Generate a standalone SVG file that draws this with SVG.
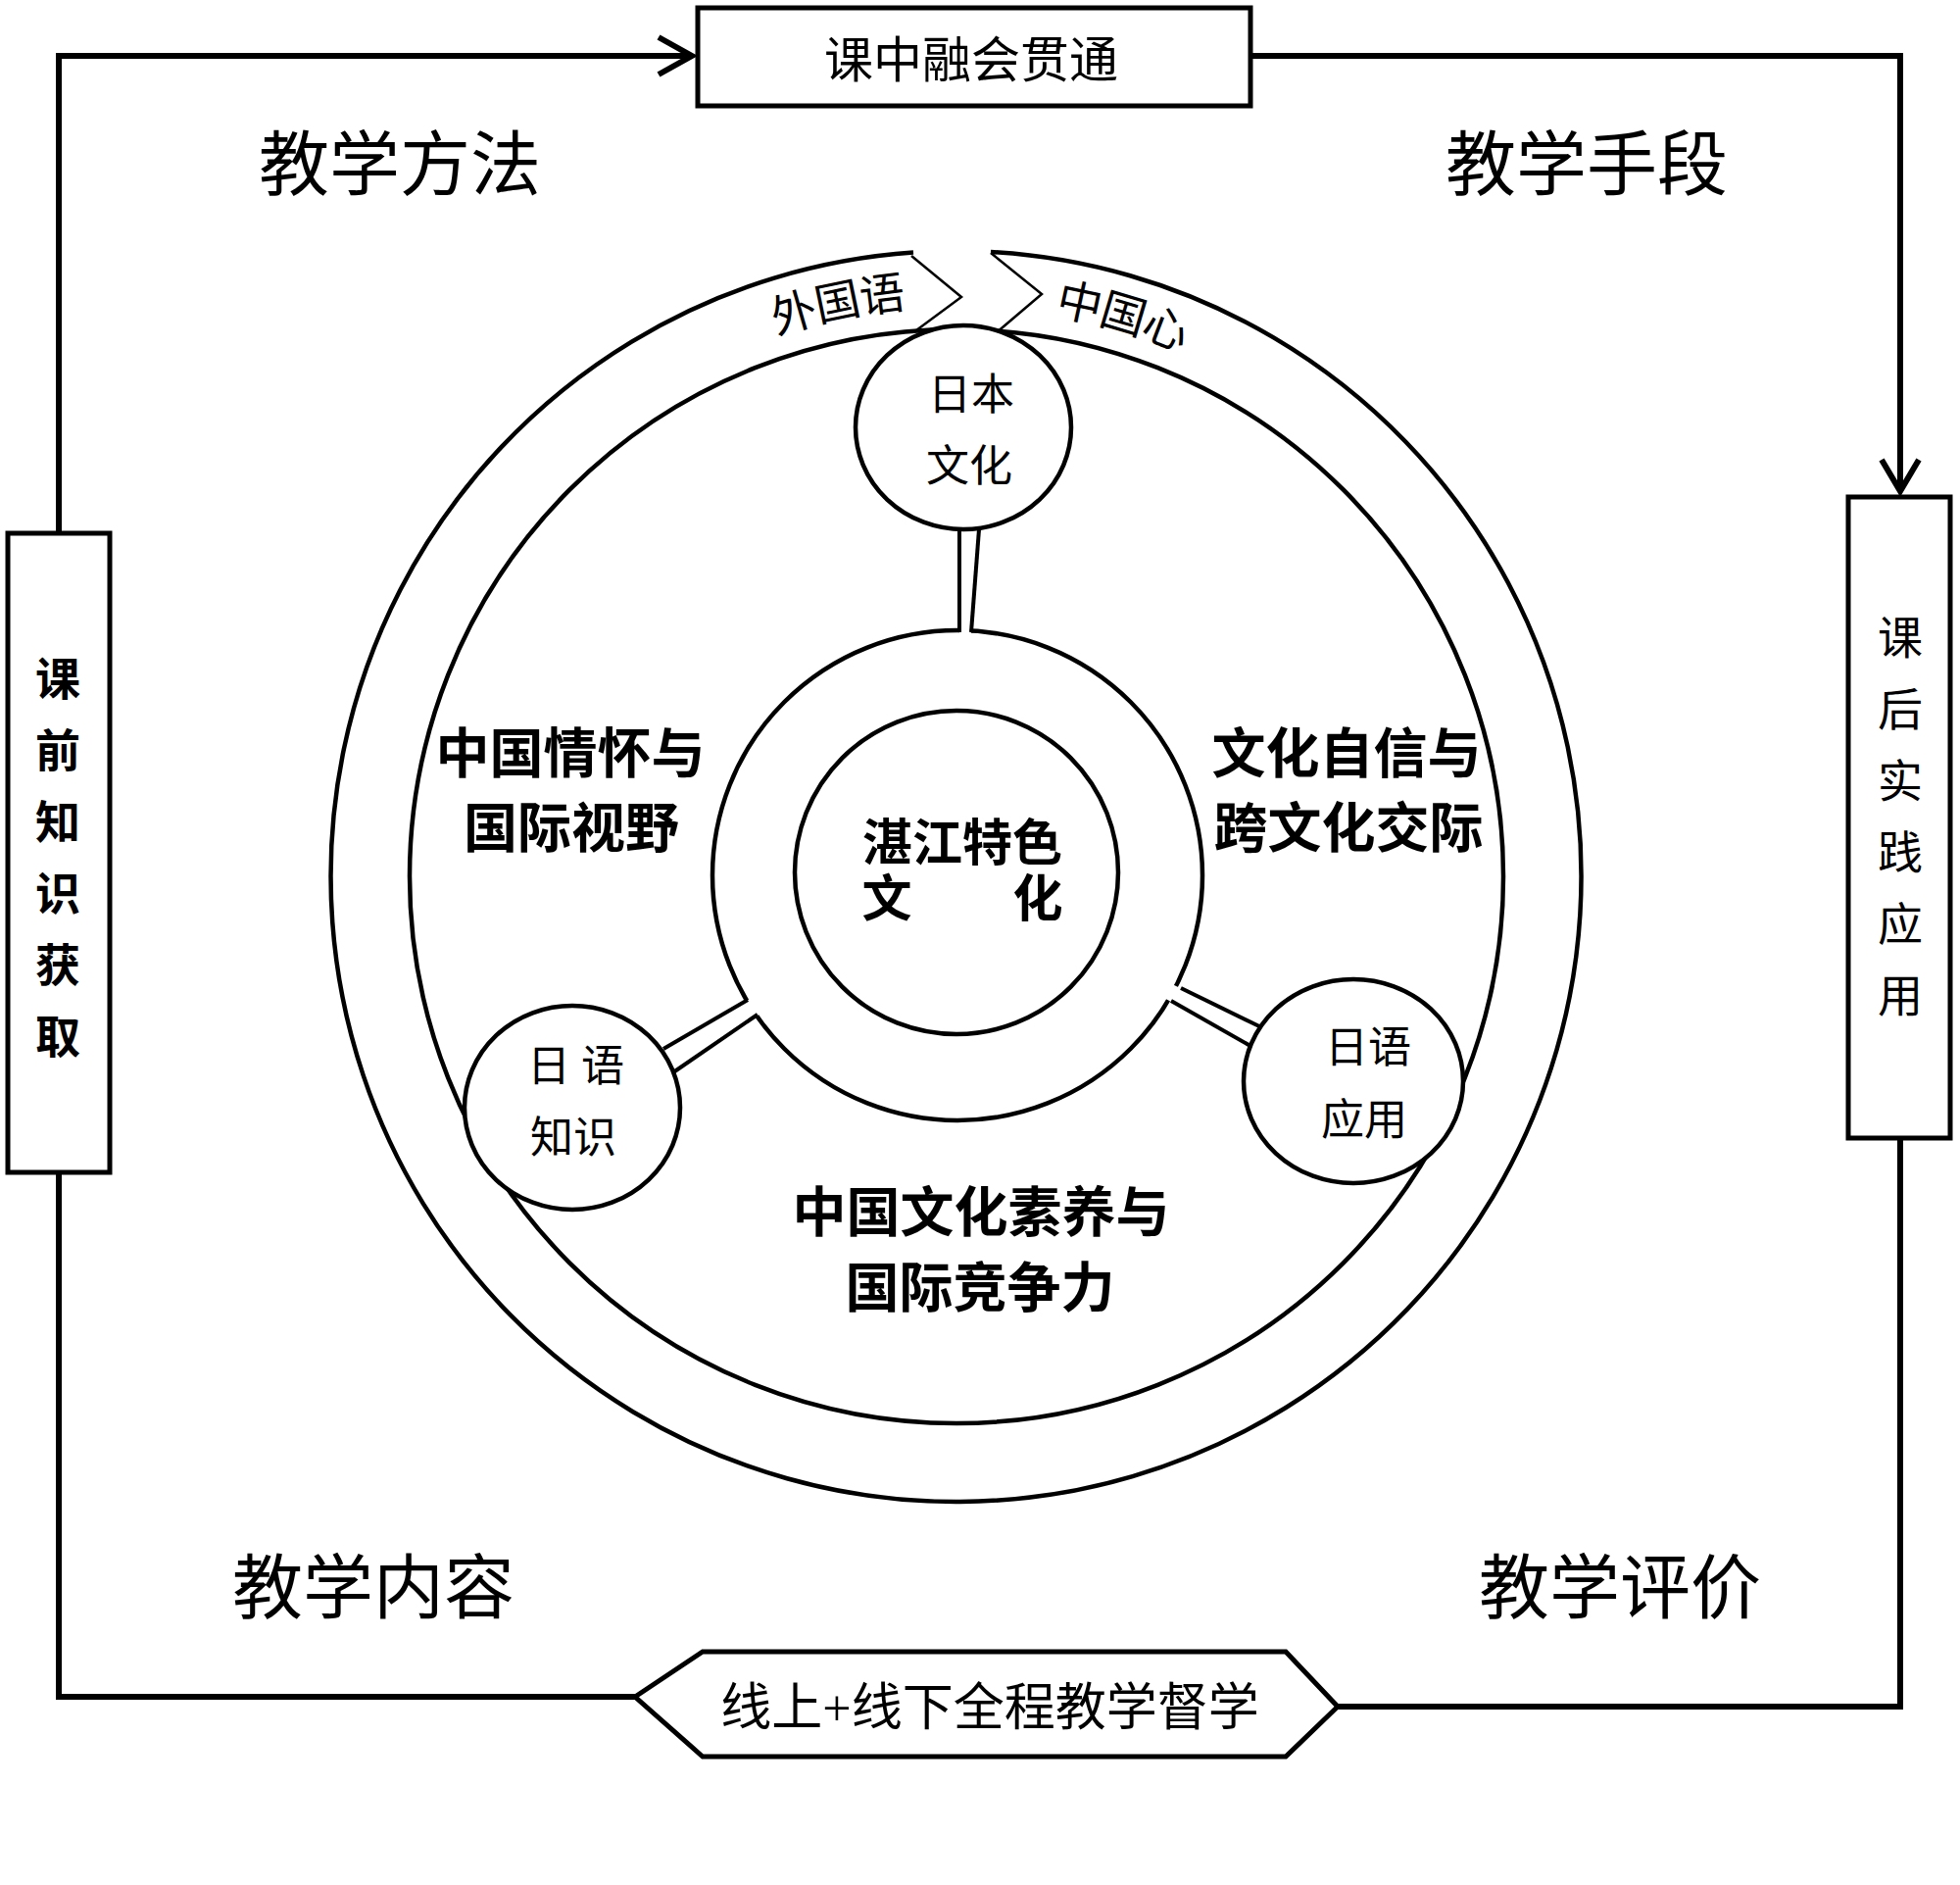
<svg xmlns="http://www.w3.org/2000/svg" width="2000" height="1923" viewBox="0 0 2000 1923">
<defs>
<style>
.t{font-family:"Liberation Serif","Noto Sans CJK SC",serif;fill:#000;text-anchor:middle;dominant-baseline:central}
.b{font-family:"Noto Sans CJK SC",sans-serif;font-weight:700;fill:#000;text-anchor:middle;dominant-baseline:central}
.box{fill:#fff;stroke:#000;stroke-width:5}
.ring{fill:none;stroke:#000;stroke-width:4.5}
.sc{fill:#fff;stroke:#000;stroke-width:4.5}
.stem{stroke:#000;stroke-width:4;fill:none}
.flow{fill:none;stroke:#000;stroke-width:6;stroke-linejoin:miter}
</style>
<path id="arcp" d="M 378 894 A 598 598 0 0 1 1574 894"/>
</defs>
<rect width="2000" height="1923" fill="#fff"/>

<g id="connectors">
<polyline class="flow" points="648,1731 60,1731 60,1196"/>
<polyline class="flow" points="60,542 60,57 706,57"/>
<polyline class="flow" points="672,38 706,57 672,76"/>
<polyline class="flow" points="1276,57 1939,57 1939,501"/>
<polyline class="flow" points="1920,469 1939,501 1958,469"/>
<polyline class="flow" points="1939,1161 1939,1741 1365,1741"/>
</g>

<g id="node-top">
<rect class="box" x="712" y="8" width="564" height="100"/>
<text class="t" x="991" y="62" font-size="50">课中融会贯通</text>
</g>

<g id="node-left">
<rect class="box" x="8" y="544" width="104" height="652"/>
<g class="b" font-size="46">
<text x="59" y="689">课</text><text x="59" y="762">前</text><text x="59" y="835">知</text>
<text x="59" y="908">识</text><text x="59" y="981">获</text><text x="59" y="1054">取</text>
</g>
</g>

<g id="node-right">
<rect class="box" x="1886" y="507" width="104" height="654"/>
<g class="t" font-size="46">
<text x="1939" y="651">课</text><text x="1939" y="724">后</text><text x="1939" y="797">实</text>
<text x="1939" y="870">践</text><text x="1939" y="943">应</text><text x="1939" y="1016">用</text>
</g>
</g>

<g id="node-bottom">
<polygon class="box" points="648,1731 717,1685 1312,1685 1365,1741 1312,1792 717,1792"/>
<text class="t" x="1010" y="1742" font-size="52">线上+线下全程教学督学</text>
</g>

<g id="labels-corner" class="t" font-size="72">
<text x="408" y="169">教学方法</text>
<text x="1619" y="169">教学手段</text>
<text x="381" y="1621">教学内容</text>
<text x="1653" y="1621">教学评价</text>
</g>

<g id="outer-ring">
<path class="ring" d="M 1011 257 A 638 638 0 1 1 932 257.5"/>
<circle class="ring" cx="976" cy="894" r="558"/>
<polyline fill="none" stroke="#000" stroke-width="2.5" points="930,261 981,303 935,337"/>
<polyline fill="none" stroke="#000" stroke-width="2.5" points="1011,258 1063,300 1016,340"/>
<text class="t" font-size="46"><textPath href="#arcp" startOffset="817" text-anchor="middle">外国语</textPath></text>
<text class="t" font-size="46"><textPath href="#arcp" startOffset="1112" text-anchor="middle">中国心</textPath></text>
</g>

<g id="middle-circle">
<circle class="ring" cx="977" cy="893" r="250"/>
<circle class="ring" cx="976" cy="890" r="165"/>
<text class="b" x="982" y="856" font-size="51">湛江特色</text>
<text class="b" x="905" y="913" font-size="51">文</text>
<text class="b" x="1059" y="913" font-size="51">化</text>
</g>

<g id="stems">
<polygon fill="#fff" points="979,540 999,540 990,656 979,656"/>
<line class="stem" x1="979" y1="540" x2="979" y2="645"/>
<line class="stem" x1="999" y1="540" x2="991" y2="645"/>
<polygon fill="#fff" points="677,1070 772,1015 782,1030 687,1094"/>
<line class="stem" x1="677" y1="1070" x2="763" y2="1020"/>
<line class="stem" x1="687" y1="1094" x2="773" y2="1035"/>
<polygon fill="#fff" points="1285,1047 1196,1004 1186,1017 1276,1067"/>
<line class="stem" x1="1285" y1="1047" x2="1205" y2="1008"/>
<line class="stem" x1="1276" y1="1067" x2="1195" y2="1021"/>
</g>

<g id="node-riben">
<ellipse class="sc" cx="983" cy="436" rx="110" ry="104"/>
<text class="t" x="991" y="403" font-size="44">日本</text>
<text class="t" x="989" y="476" font-size="44">文化</text>
</g>

<g id="node-zhishi">
<ellipse class="sc" cx="584" cy="1130" rx="110" ry="104"/>
<text class="t" x="560" y="1088" font-size="44">日</text>
<text class="t" x="615" y="1088" font-size="44">语</text>
<text class="t" x="585" y="1161" font-size="44">知识</text>
</g>

<g id="node-yingyong">
<ellipse class="sc" cx="1381" cy="1103" rx="112" ry="104"/>
<text class="t" x="1396" y="1069" font-size="44">日语</text>
<text class="t" x="1392" y="1143" font-size="44">应用</text>
</g>

<g id="labels-bold" class="b" font-size="55">
<text x="582" y="764">中国情怀与</text>
<text x="583" y="840">国际视野</text>
<text x="1374" y="764">文化自信与</text>
<text x="1376" y="840">跨文化交际</text>
<text x="1001" y="1232">中国文化素养与</text>
<text x="1000" y="1309">国际竞争力</text>
</g>
</svg>
